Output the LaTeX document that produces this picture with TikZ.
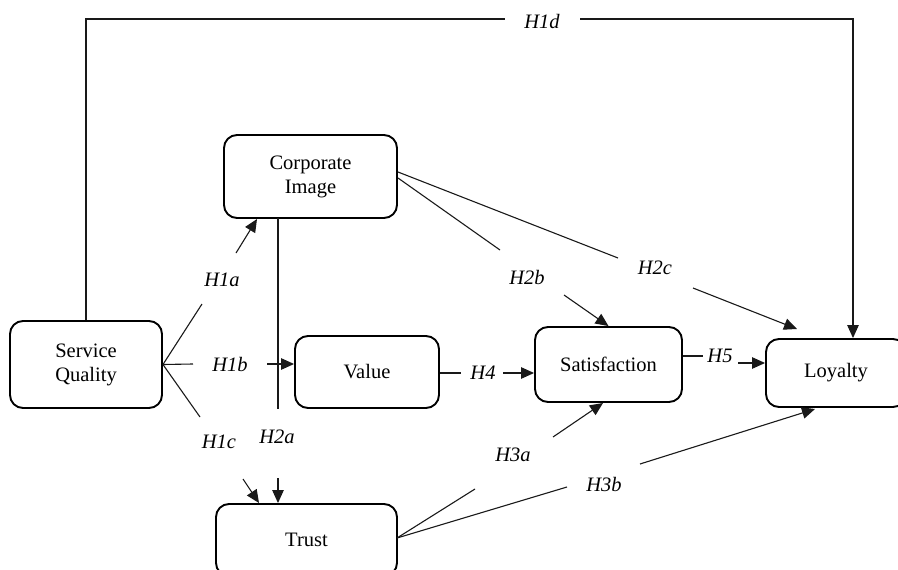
\documentclass[tikz,border=0pt]{standalone}
\usepackage{fontspec}
\setmainfont{Liberation Serif}
\usetikzlibrary{arrows.meta,calc}
\begin{document}
\begin{tikzpicture}[x=1pt,y=-1pt,
  box/.style={draw=black,line width=1.9pt,rounded corners=13pt,align=center,
    font=\fontsize{20.5}{24}\selectfont,inner sep=0pt},
  hyp/.style={font=\fontsize{20.5}{24}\selectfont\itshape,inner sep=0pt},
  conn/.style={draw=black!90,line width=1.1pt},
  arr/.style={conn,-{Triangle[length=13pt,width=11.5pt]}}]
\useasboundingbox (0,0) rectangle (898,570);
\clip (0,0) rectangle (898,570);
% boxes
\node[box,minimum width=152pt,minimum height=87pt] (SQ) at (86,364.5) {Service\\Quality};
\node[box,minimum width=173pt,minimum height=83pt] (CI) at (310.5,176.5) {Corporate\\Image};
\node[box,minimum width=144pt,minimum height=72pt] (Val) at (367,372) {Value};
\node[box,minimum width=147pt,minimum height=75pt] (Sat) at (608.5,364.5) {Satisfaction};
\node[box,minimum width=140pt,minimum height=68pt] (Loy) at (836,373) {Loyalty};
\node[box,minimum width=181pt,minimum height=72pt] (Tr) at (306.5,540) {Trust};
% labels
\node[hyp] (h1d) at (542,21) {H1d};
\node[hyp] (h1a) at (222,280) {H1a};
\node[hyp] (h1b) at (230,364) {H1b};
\node[hyp] (h1c) at (219,442) {H1c};
\node[hyp] (h2a) at (277,437) {H2a};
\node[hyp] (h2b) at (527,277) {H2b};
\node[hyp] (h2c) at (655,268) {H2c};
\node[hyp] (h4) at (483,373) {H4};
\node[hyp] (h5) at (720,356) {H5};
\node[hyp] (h3a) at (513,455) {H3a};
\node[hyp] (h3b) at (604,484) {H3b};
% coordinates
\coordinate (d1) at (86,19);
\coordinate (d2) at (505,19);
\coordinate (d3) at (580,19);
\coordinate (d4) at (853,19);
\coordinate (a1) at (202,304);
\coordinate (a2) at (236,253);
\coordinate (a3) at (257,219);
\coordinate (b1) at (193,364);
\coordinate (b2) at (267,364);
\coordinate (c1) at (200,417);
\coordinate (c2) at (243,479);
\coordinate (c3) at (259,503);
\coordinate (e0) at (278,218);
\coordinate (e1) at (278,409);
\coordinate (e2) at (278,478);
\coordinate (f0) at (398,178);
\coordinate (f1) at (500,250);
\coordinate (f2) at (564,295);
\coordinate (g0) at (398,172);
\coordinate (g1) at (618,258);
\coordinate (g2) at (693,288);
\coordinate (g3) at (797,329);
\coordinate (k1) at (461,373);
\coordinate (k2) at (503,373);
\coordinate (m1) at (703,356);
\coordinate (m2) at (738,363);
\coordinate (t0) at (397,538);
\coordinate (p1) at (475,489);
\coordinate (p2) at (553,437);
\coordinate (p3) at (603,403);
\coordinate (q1) at (567,487);
\coordinate (q2) at (640,464);
\coordinate (q3) at (815,409);
% H1d
\draw[conn] (SQ.north) -- (d1) -- (d2);
\draw[arr] (d3) -- (d4) -- (d4 |- Loy.north);
% H1a
\draw[conn] (SQ.east) -- (a1);
\draw[arr] (a2) -- (a3);
% H1b
\draw[conn] (SQ.east) -- (b1);
\draw[arr] (b2) -- (b2 -| Val.west);
% H1c
\draw[conn] (SQ.east) -- (c1);
\draw[arr] (c2) -- (c3);
% H2a
\draw[conn] (e0) -- (e1);
\draw[arr] (e2) -- (e2 |- Tr.north);
% H2b
\draw[conn] (f0) -- (f1);
\draw[arr] (f2) -- (Sat.north);
% H2c
\draw[conn] (g0) -- (g1);
\draw[arr] (g2) -- (g3);
% H4
\draw[conn] (k1 -| Val.east) -- (k1);
\draw[arr] (k2) -- (k2 -| Sat.west);
% H5
\draw[conn] (m1 -| Sat.east) -- (m1);
\draw[arr] (m2) -- (m2 -| Loy.west);
% H3a
\draw[conn] (t0) -- (p1);
\draw[arr] (p2) -- (p3);
% H3b
\draw[conn] (t0) -- (q1);
\draw[arr] (q2) -- (q3);
\end{tikzpicture}
\end{document}
